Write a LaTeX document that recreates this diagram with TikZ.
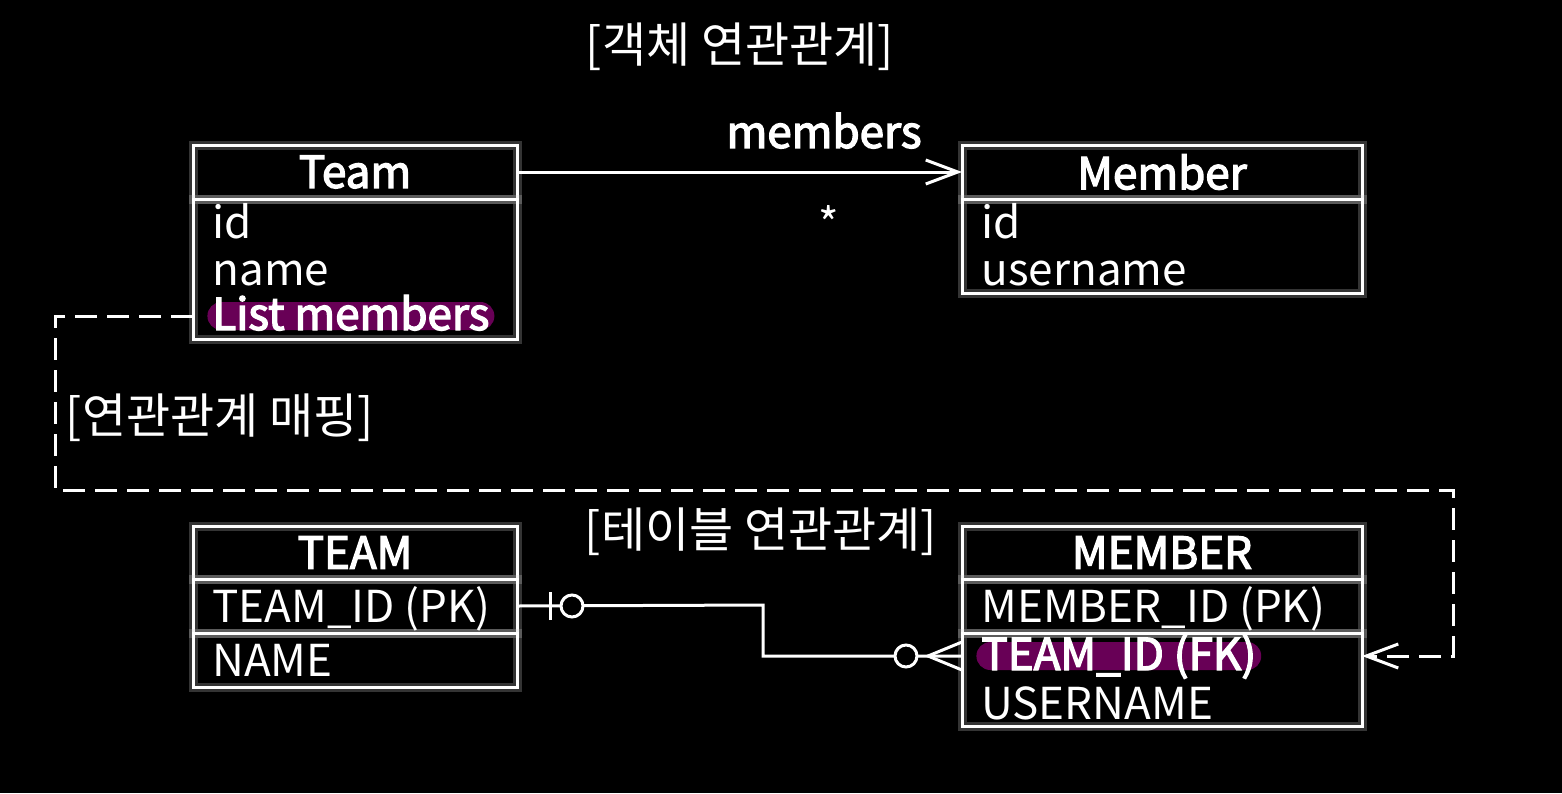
\documentclass[tikz,border=0pt]{standalone}
\usepackage{fontspec}
\setmainfont{Noto Sans CJK KR}
\newfontfamily\medfont{Noto Sans CJK KR}[FakeBold=3]
\usetikzlibrary{positioning,arrows.meta}
\definecolor{erPurple}{RGB}{104,0,86}
\definecolor{erGlow}{RGB}{210,210,210}
\tikzset{
    base/.style={font=\fontsize{22pt}{26pt}\selectfont, text=white},
    entity/.style={draw=white, line width=1.5pt, inner sep=0pt, outer sep=0pt,
                   preaction={draw=erGlow, line width=4.5pt, opacity=0.25}},
    header/.style={base, font=\fontsize{22pt}{26pt}\selectfont\medfont},
    field/.style={base, anchor=base west, inner sep=0pt},
    marked/.style={field, font=\fontsize{22pt}{26pt}\selectfont\medfont, fill=erPurple,
                   rounded corners=7pt, inner xsep=2.5pt, text height=14pt, text depth=0pt},
    heading/.style={base, font=\fontsize{24pt}{28pt}\selectfont},
    edgelabel/.style={base, inner sep=0pt},
    assoc/.style={-{Straight Barb[length=16pt,width=12pt,line width=1.5pt]}, white, line width=1.5pt},
    mapping/.style={assoc, dash pattern=on 11pt off 5pt},
    relation/.style={white, line width=1.5pt}
}
\begin{document}
\begin{tikzpicture}[x=0.5pt, y=-0.5pt]
  \fill[black] (0,0) rectangle (1562,793);

  % titles
  \node[heading] (objTitle) at (740,47) {[객체 연관관계]};
  \node[heading] (mapTitle) at (220,418) {[연관관계 매핑]};
  \node[heading] (tableTitle) at (761,532) {[테이블 연관관계]};

  % object model
  \node[entity, header, minimum width=162pt, minimum height=27pt] (teamHead) at (355,172) {Team};
  \node[entity, minimum width=162pt, minimum height=70pt, below=0pt of teamHead] (teamBody) {};
  \node[entity, header, minimum width=200pt, minimum height=27pt] (memberHead) at (1162,172) {Member};
  \node[entity, minimum width=200pt, minimum height=47pt, below=0pt of memberHead] (memberBody) {};

  \node[field] (teamId) at (212,238) {id};
  \node[field] (teamName) at (212,285) {name};
  \node[marked] (teamMembers) at (207,330) {List members};
  \node[field] (memberId) at (981,238) {id};
  \node[field] (memberName) at (981,285) {username};

  \draw[assoc] (teamHead.east) -- (memberHead.west)
    node[edgelabel, header, pos=0.69, above=11pt] (assocName) {members}
    node[edgelabel, pos=0.7, below=16pt] (assocMany) {*};

  % table model
  \node[entity, header, minimum width=162pt, minimum height=26.5pt] (tableTeamHead) at (355,552.5) {TEAM};
  \node[entity, minimum width=162pt, minimum height=27pt, below=0pt of tableTeamHead] (tableTeamPk) {};
  \node[entity, minimum width=162pt, minimum height=27pt, below=0pt of tableTeamPk] (tableTeamRest) {};
  \node[entity, header, minimum width=200pt, minimum height=26.5pt] (tableMemberHead) at (1162,552.5) {MEMBER};
  \node[entity, minimum width=200pt, minimum height=27pt, below=0pt of tableMemberHead] (tableMemberPk) {};
  \node[entity, minimum width=200pt, minimum height=46.5pt, below=0pt of tableMemberPk] (tableMemberRest) {};

  \node[field] (teamPkText) at (212,622) {TEAM\_ID (PK)};
  \node[field] (teamNameText) at (212,676) {NAME};
  \node[field] (memberPkText) at (981,622) {MEMBER\_ID (PK)};
  \node[marked] (memberFk) at (976,670) {TEAM\_ID (FK)};
  \node[field] (memberNameText) at (981,719) {USERNAME};

  % mapping between the two
  \coordinate (mapTurnLeft) at (55,490);
  \coordinate (mapTurnRight) at (1453,490);
  \draw[mapping] (teamBody.west |- teamMembers) -- (mapTurnLeft |- teamMembers) -- (mapTurnLeft)
    -- (mapTurnRight) -- (mapTurnRight |- memberFk) -- (tableMemberRest.east |- memberFk);

  % foreign key relation
  \coordinate (oneEnd) at (tableTeamPk.east);
  \coordinate (relKnee) at (763,605);
  \coordinate (manyEnd) at (tableMemberRest.west |- memberFk);
  \draw[relation] (oneEnd) -- (relKnee) |- (manyEnd);
  \draw[relation] ([xshift=16.5pt,yshift=-7pt]oneEnd) -- ([xshift=16.5pt,yshift=7pt]oneEnd);
  \draw[relation, fill=black] ([xshift=27.5pt]oneEnd) circle (5.5pt);
  \draw[relation, fill=black] ([xshift=-28pt]manyEnd) circle (5.5pt);
  \draw[relation] ([yshift=7pt]manyEnd) -- ([xshift=-17pt]manyEnd) -- ([yshift=-7pt]manyEnd);
\end{tikzpicture}
\end{document}
